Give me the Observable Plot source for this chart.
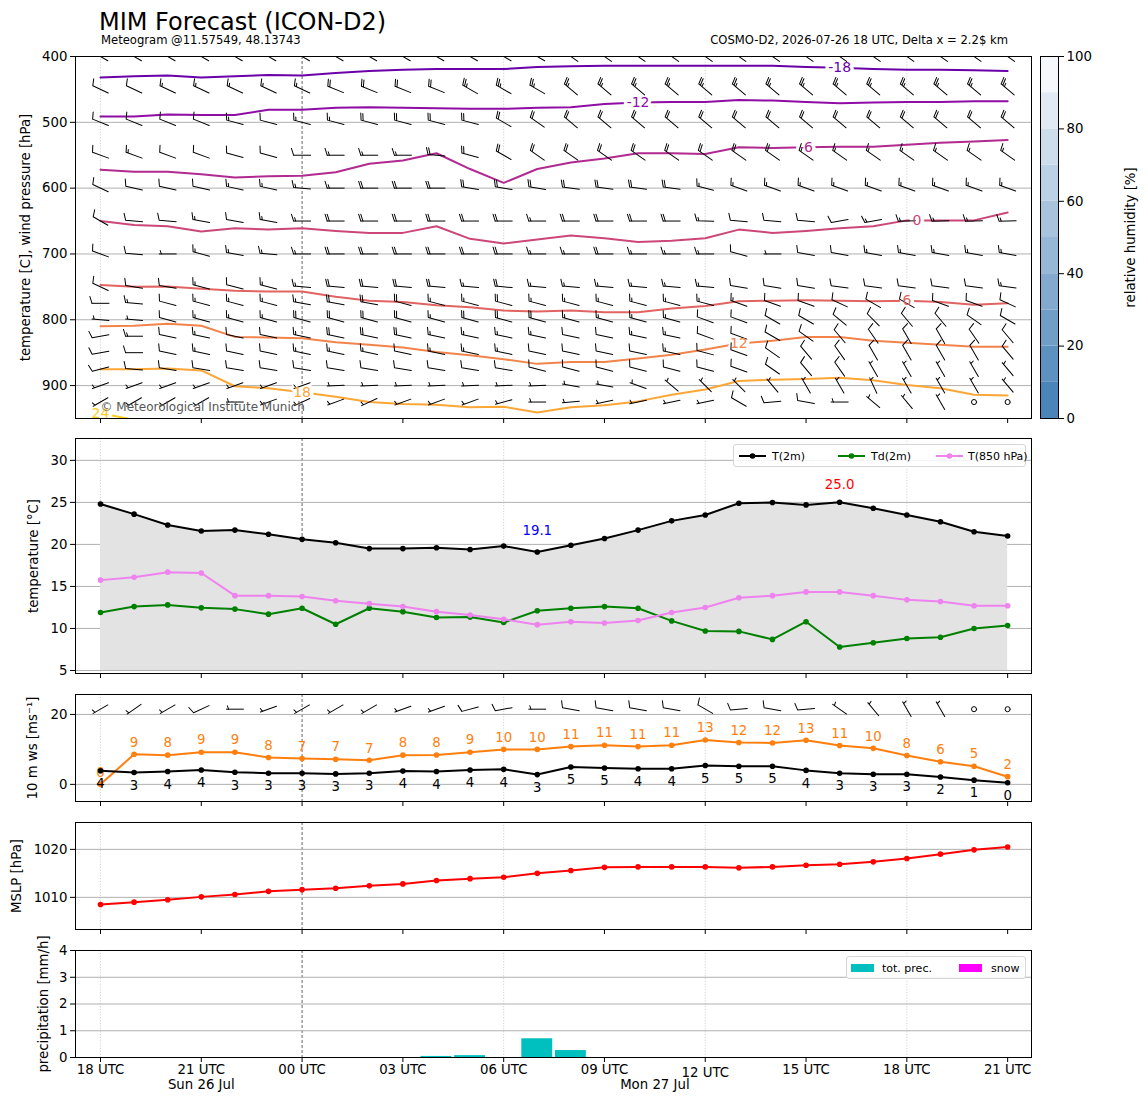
<!DOCTYPE html>
<html><head><meta charset="utf-8">
<script src="https://cdn.jsdelivr.net/npm/d3@7"></script>
<script src="https://cdn.jsdelivr.net/npm/@observablehq/plot@0.6"></script>
<style>
body{margin:0;background:#fff;font-family:"DejaVu Sans",sans-serif;}
#fig{position:relative;width:1148px;height:1105px;overflow:hidden;background:#fff;color:#000;}
.t{position:absolute;white-space:nowrap;line-height:1;}
.leg{position:absolute;border:1px solid #d6d6d6;border-radius:3px;background:rgba(255,255,255,0.85);font-size:11px;box-sizing:border-box;}
.leg span{position:absolute;top:5px;white-space:nowrap;}
.leg svg{position:absolute;top:0;}
</style></head><body><div id="fig"></div>
<script>
// ---------------- data ----------------
const validTimes = ["2026-07-26T18:00:00Z","2026-07-26T19:00:00Z","2026-07-26T20:00:00Z","2026-07-26T21:00:00Z","2026-07-26T22:00:00Z","2026-07-26T23:00:00Z",
"2026-07-27T00:00:00Z","2026-07-27T01:00:00Z","2026-07-27T02:00:00Z","2026-07-27T03:00:00Z","2026-07-27T04:00:00Z","2026-07-27T05:00:00Z",
"2026-07-27T06:00:00Z","2026-07-27T07:00:00Z","2026-07-27T08:00:00Z","2026-07-27T09:00:00Z","2026-07-27T10:00:00Z","2026-07-27T11:00:00Z",
"2026-07-27T12:00:00Z","2026-07-27T13:00:00Z","2026-07-27T14:00:00Z","2026-07-27T15:00:00Z","2026-07-27T16:00:00Z","2026-07-27T17:00:00Z",
"2026-07-27T18:00:00Z","2026-07-27T19:00:00Z","2026-07-27T20:00:00Z","2026-07-27T21:00:00Z"];
const tickLabels = ["18 UTC","21 UTC","00 UTC","03 UTC","06 UTC","09 UTC","12 UTC","15 UTC","18 UTC","21 UTC"];
const dayLabels = ["Sun 26 Jul","Mon 27 Jul"];
const dayLabelTimes = ["2026-07-26T21:00:00Z","2026-07-27T10:30:00Z"];

// 2 m temperature, dew point, 850 hPa temperature [°C]
const t2m  = [24.8,23.6,22.3,21.6,21.7,21.2,20.6,20.2,19.5,19.5,19.6,19.4,19.8,19.1,19.9,20.7,21.7,22.8,23.5,24.9,24.98,24.7,25.02,24.3,23.5,22.7,21.5,21.0];
const td2m = [11.9,12.6,12.8,12.45,12.3,11.7,12.4,10.5,12.4,12.0,11.3,11.35,10.7,12.1,12.4,12.6,12.4,10.9,9.7,9.65,8.7,10.8,7.8,8.3,8.8,8.95,10.0,10.35];
const t850 = [15.75,16.1,16.7,16.6,13.9,13.9,13.8,13.3,12.95,12.6,12.0,11.6,11.1,10.45,10.8,10.65,10.95,11.9,12.5,13.65,13.9,14.35,14.35,13.9,13.4,13.2,12.7,12.7];
// 10 m wind speed and gusts [m/s]
const ws10  = [3.9,3.4,3.7,4.1,3.45,3.2,3.2,3.0,3.2,3.8,3.7,4.1,4.3,2.8,4.95,4.7,4.45,4.45,5.4,5.2,5.2,4.0,3.2,2.9,2.9,2.1,1.2,0.48];
const gust10 = [0,8.6,8.35,9.2,9.2,7.7,7.4,7.2,6.9,8.35,8.4,9.2,10.0,10.0,10.8,11.2,10.8,11.2,12.7,11.95,11.85,12.6,11.1,10.3,8.25,6.45,5.2,2.2];
// mean sea level pressure [hPa]
const mslp = [1008.5,1009.0,1009.5,1010.1,1010.6,1011.25,1011.6,1011.9,1012.4,1012.8,1013.5,1013.9,1014.2,1015.0,1015.6,1016.25,1016.35,1016.35,1016.35,1016.15,1016.35,1016.7,1016.9,1017.4,1018.1,1019.0,1019.9,1020.5];
// precipitation [mm/h]
const totPrec = [0,0,0,0,0,0,0,0,0,0,0.04,0.07,0,0.70,0.26,0,0,0,0,0,0,0,0,0,0,0,0,0];
const snowPrec = [0,0,0,0,0,0,0,0,0,0,0,0,0,0,0,0,0,0,0,0,0,0,0,0,0,0,0,0];
// 10 m wind barbs: direction [deg], speed [kt]
const dir10 = [240,235,240,245,270,250,240,240,240,250,250,255,260,270,280,280,280,280,300,265,280,265,305,320,330,330,0,0];
const spd10 = [5,5,5,10,5,5,5,5,5,5,5,10,10,5,10,10,10,10,10,10,10,10,5,5,5,5,0,0];

// temperature isolines in the vertical section: pressure [hPa] of each isotherm
const isoLevels = [-18,-12,-6,0,6,12,18,24];
const isoM18 = [432,430,429,432,430,428,429,425,422,420,419,419,419,416,415,414,414,414,414,414,414,416,417,419,420,420,421,422];
const isoM12 = [491,491,488,489,489,481,481,478,477,478,478.5,479.5,479.5,478,477,472,470,469,469,466,467,469,471,470,469,469,468,468];
const isoM6  = [572,575,575,579,584,582,581,576,563,558,547,571,592,571,561,555,547,547,548,538,539,538,537,537,534,531,529,527];
const iso0   = [650,656,658,666,661,663,661,665,668,668,658,677,684,678,672,676,682,680,676,663,668,665,661,658,649,649,649,637];
const iso6   = [747,750,749.5,753,756,757,757,765,771,773,778,781,786,787.5,786,788.5,788.5,783,779,772,771,770.5,771,772,771,773,777,775];
const iso12  = [810,809,806,809,826,827,828,834,838,842,849,854,860,867,864,864,859,853,845,836,832,826,826,832,835,838,841,841];
const iso18  = [875,875,874,877,901,904,910,917,925,928,929,933,932,941,933,930,924,914,906,893,891,890,888,892,899,904,914,915];
const iso24  = [942,952,null,null,null,null,null,null,null,null,null,null,null,null,null,null,null,null,null,null,null,null,null,null,null,null,null,null];
const isoLabelHour = [22,16,21,24.3,24,19,6,0];

// wind barbs in the vertical section (direction [deg], speed [kt]) per pressure level
const windLevels = [400,450,500,550,600,650,700,750,775,800,825,850,875,900,925];
const dir400 = [300,300,300,300,300,300,300,300,300,300,300,300,300,300,305,305,305,305,305,305,305,305,305,305,305,305,305,305];
const spd400 = [25,25,25,25,25,25,25,25,25,25,25,25,25,25,25,25,25,25,25,25,25,25,25,25,25,25,25,25];
const dir450 = [295,295,295,295,295,295,295,292,292,292,292,300,300,300,310,310,310,310,310,310,310,310,310,310,310,310,310,310];
const spd450 = [10,10,15,15,15,15,15,20,20,20,20,25,25,25,25,25,25,25,25,25,25,25,25,25,25,25,25,25];
const dir500 = [292,292,292,292,285,285,285,285,285,285,285,285,300,305,310,310,310,310,310,310,310,310,310,310,310,310,310,310];
const spd500 = [10,10,10,10,15,10,15,15,20,20,20,20,20,20,20,20,20,20,20,20,20,20,20,20,20,20,20,20];
const dir550 = [290,290,290,290,285,285,270,270,270,270,275,285,300,305,305,305,305,305,305,305,305,305,305,305,305,305,305,305];
const spd550 = [10,15,10,10,10,10,10,15,15,15,20,20,20,20,20,20,20,20,20,20,20,15,15,15,15,15,15,15];
const dir600 = [295,283,283,283,282,282,275,270,270,270,270,280,280,280,278,278,278,278,285,290,290,290,290,290,290,290,290,290];
const spd600 = [10,10,10,10,15,15,15,15,20,20,20,20,20,20,20,20,20,20,15,15,15,15,15,15,15,15,15,15];
const dir650 = [300,275,275,280,280,280,270,270,270,270,270,270,270,270,270,270,270,270,272,275,275,275,260,260,268,268,268,268];
const spd650 = [10,10,10,15,10,15,15,20,20,20,20,20,20,15,20,20,20,20,15,10,10,10,10,15,15,15,15,15];
const dir700 = [290,275,270,285,280,275,270,270,270,270,270,270,270,270,270,270,270,270,270,285,270,280,280,280,280,280,280,280];
const spd700 = [10,10,5,15,15,15,15,20,20,20,20,20,20,15,15,20,15,15,15,10,5,10,10,15,15,15,15,15];
const dir750 = [295,280,280,285,285,285,275,275,275,275,275,275,275,275,275,275,275,275,275,280,280,280,277,277,277,277,277,277];
const spd750 = [10,10,10,15,10,15,15,20,20,20,20,15,20,15,15,15,15,15,15,10,10,10,10,10,10,10,10,15];
const dir775 = [270,275,285,285,285,285,280,280,280,285,285,285,285,285,285,285,285,285,285,290,290,290,295,300,300,290,290,295];
const spd775 = [10,15,10,15,15,15,15,20,20,20,15,15,20,15,15,15,15,15,15,15,10,10,10,10,10,10,10,10];
const dir800 = [275,275,285,285,285,285,285,285,285,285,285,285,285,285,285,285,285,285,290,290,300,300,310,315,320,320,305,300];
const spd800 = [5,5,10,15,15,15,20,20,20,20,15,20,20,20,15,15,15,15,10,10,10,10,10,10,10,10,10,10];
const dir825 = [260,270,282,282,282,282,282,282,282,282,282,282,282,282,282,282,282,282,290,290,300,305,320,325,330,330,325,320];
const spd825 = [10,15,10,15,10,10,15,20,20,20,15,15,15,15,10,10,15,15,10,10,10,10,10,10,10,10,10,10];
const dir850 = [260,270,282,282,282,282,282,282,282,282,282,282,282,282,282,282,282,282,285,290,305,320,325,330,330,330,330,320];
const spd850 = [10,10,10,15,10,10,15,15,15,10,15,15,15,10,10,10,10,15,10,10,10,10,10,10,10,10,10,10];
const dir875 = [255,275,280,280,280,280,280,280,280,280,280,280,280,285,285,285,285,285,285,290,305,320,325,330,330,330,330,320];
const spd875 = [10,10,10,10,10,10,10,10,10,10,10,10,10,10,10,10,10,10,10,10,10,10,10,5,5,5,5,5];
const dir900 = [250,250,250,250,250,250,250,268,268,268,268,268,268,268,280,280,290,310,315,315,320,330,330,335,330,330,330,320];
const spd900 = [5,5,5,5,5,5,5,5,5,5,5,5,5,5,5,5,5,5,5,5,5,5,5,5,5,5,5,5];
const dir925 = [240,240,240,240,270,250,245,250,245,250,250,250,255,270,265,258,258,258,258,300,265,280,270,310,320,330,0,0];
const spd925 = [5,5,5,5,5,5,5,5,5,5,5,5,5,5,5,5,5,5,5,10,10,10,5,5,5,5,0,0];

// relative humidity colour bar levels [%]
const rhLevels = [0,10,20,30,40,50,60,70,80,90,100];

// ---------------- helpers ----------------
const T = validTimes.map(d => new Date(d));
const H = 3600e3;
const xDomain = [new Date(+T[0] - 0.744 * H), new Date(+T[T.length - 1] + 0.71 * H)];
const tickTimes = T.filter(d => d.getUTCHours() % 3 === 0);
const tickLabelMap = new Map(tickTimes.map((d, i) => [+d, tickLabels[i]]));
const sixHourly = T.filter(d => d.getUTCHours() % 6 === 0 && d.getUTCHours() !== 0);
const midnights = T.filter(d => d.getUTCHours() === 0);
const fig = document.getElementById("fig");
const FONT = "DejaVu Sans";
const FS = 13.3;

function series(arr, name) { return T.map((time, i) => ({time, value: arr[i], name})); }

// wind barb symbol (matplotlib-like, pivot in the middle, feathers at the upwind end)
const barb = {
  draw(ctx, spd) {
    const L = 17, FH = 0.4 * L, FW = 0.25 * L, SP = 0.125 * L;
    let s = Math.round(spd / 5) * 5;
    if (s < 5) { const r = 0.15 * L; ctx.moveTo(r, 0); ctx.arc(0, 0, r, 0, 2 * Math.PI); return; }
    const end = -L / 2;
    ctx.moveTo(0, L / 2); ctx.lineTo(0, end);
    const nFlag = Math.floor(s / 50); s -= 50 * nFlag;
    const nFull = Math.floor(s / 10); s -= 10 * nFull;
    const half = s >= 5;
    let off = 0;
    for (let i = 0; i < nFlag; i++) {
      ctx.moveTo(0, end + off); ctx.lineTo(FH, end + off + FW / 2); ctx.lineTo(0, end + off + FW); ctx.closePath();
      off += FW + SP;
    }
    for (let i = 0; i < nFull; i++) {
      ctx.moveTo(0, end + off); ctx.lineTo(FH, end + off - FW / 2);
      off += SP;
    }
    if (half) {
      if (nFlag + nFull === 0) off += SP;
      ctx.moveTo(0, end + off); ctx.lineTo(FH / 2, end + off - FW / 4);
    }
  }
};

function vGrid() {
  return [
    Plot.ruleX(sixHourly, {stroke: "#c8c8c8", strokeWidth: 0.8, strokeDasharray: "1.2,1.6"}),
    Plot.ruleX(midnights, {stroke: "#404040", strokeWidth: 0.8, strokeDasharray: "3,2"})
  ];
}
function hGrid(ticks) { return Plot.ruleY(ticks, {stroke: "#b0b0b0", strokeWidth: 1}); }
function yAxis(ticks) { return Plot.axisY(ticks, {anchor: "left", tickSize: 5, tickPadding: 3, fontSize: FS, label: null, tickFormat: d => String(d)}); }
function xTicks() { return Plot.axisX(tickTimes, {anchor: "bottom", tickSize: 5, tickFormat: () => "", label: null}); }
function yLabel(text, dx) { return Plot.text([text], {frameAnchor: "left", textAnchor: "middle", rotate: -90, dx, fontSize: FS, text: d => d}); }

function panel(top, height, y, marks, extra = {}) {
  const svg = Plot.plot({
    width: 1148, height, marginLeft: 75, marginRight: 117, marginTop: 10, marginBottom: height - 10 - extra.frameH,
    x: {type: "utc", domain: xDomain, axis: null},
    y: {...y, axis: null},
    ...extra.opts,
    style: {fontFamily: FONT, fontSize: FS + "px", background: "transparent", overflow: "visible"},
    marks
  });
  svg.style.position = "absolute"; svg.style.left = "0px"; svg.style.top = top + "px";
  fig.appendChild(svg);
  return svg;
}

// ---------------- header ----------------
function addText(txt, css) { const d = document.createElement("div"); d.className = "t"; d.textContent = txt; Object.assign(d.style, css); fig.appendChild(d); return d; }
addText("MIM Forecast (ICON-D2)", {left: "99px", top: "10px", fontSize: "24px"});
addText("Meteogram @11.57549, 48.13743", {left: "101px", top: "35px", fontSize: "11.6px"});
addText("COSMO-D2, 2026-07-26 18 UTC, Delta x = 2.2$ km", {right: "140px", top: "35px", fontSize: "11.6px"});

// ---------------- panel 1: vertical section ----------------
const isoArrays = [isoM18, isoM12, isoM6, iso0, iso6, iso12, iso18, iso24];
const isoRows = isoLevels.flatMap((lev, k) => T.map((time, i) => ({time, p: isoArrays[k][i], level: lev})));
const isoLabels = isoLevels.map((lev, k) => {
  const h = isoLabelHour[k], i = Math.floor(h), f = h - i, a = isoArrays[k];
  const p = f ? a[i] * (1 - f) + a[i + 1] * f : a[i];
  return {time: new Date(+T[0] + h * H), p, level: lev, text: String(lev)};
});
const windDirs = [dir400,dir450,dir500,dir550,dir600,dir650,dir700,dir750,dir775,dir800,dir825,dir850,dir875,dir900,dir925];
const windSpds = [spd400,spd450,spd500,spd550,spd600,spd650,spd700,spd750,spd775,spd800,spd825,spd850,spd875,spd900,spd925];
const barbRows = windLevels.flatMap((p, k) => T.map((time, i) => ({time, p, dir: windDirs[k][i], spd: windSpds[k][i]})));

panel(46, 384, {domain: [400, 950], reverse: true}, [
  ...vGrid(),
  hGrid([500, 600, 700, 800, 900]),
  Plot.line(isoRows, {x: "time", y: "p", z: "level", stroke: "level", strokeWidth: 2, clip: true}),
  Plot.text(isoLabels, {x: "time", y: "p", text: "text", fill: "white", stroke: "white", strokeWidth: 7, fontSize: 14}),
  Plot.vector(barbRows, {x: "time", y: "p", length: "spd", rotate: "dir", shape: barb, anchor: "start", stroke: "black", strokeWidth: 1, clip: true}),
  Plot.text(isoLabels, {x: "time", y: "p", text: "text", fill: "level", fontSize: 14}),
  Plot.text(["© Meteorological Institute Munich"], {x: T[0], frameAnchor: "bottom", dy: -8, textAnchor: "start", text: d => d, fill: "#555", fontSize: 12}),
  yAxis([400, 500, 600, 700, 800, 900]),
  xTicks(),
  Plot.frame({stroke: "black"}),
  yLabel("temperature [C], wind pressure [hPa]", -50)
], {frameH: 362, opts: {
  color: {type: "linear", scheme: "plasma", domain: [-30, 30]},
  length: {type: "linear", domain: [0, 100], range: [0, 100]}
}});

// colour bar
const rhBands = rhLevels.slice(0, -1).map((lo, i) => ({lo, hi: rhLevels[i + 1]}));
const cb = Plot.plot({
  width: 108, height: 384, marginLeft: 0, marginRight: 90, marginTop: 10, marginBottom: 12,
  x: {domain: [0, 1], axis: null},
  y: {domain: [0, 100], axis: null},
  color: {type: "linear", domain: [0, 90], range: ["#4a84b8", "#f4f7fb"]},
  style: {fontFamily: FONT, fontSize: FS + "px", background: "transparent", overflow: "visible"},
  marks: [
    Plot.rect(rhBands, {x1: 0, x2: 1, y1: "lo", y2: "hi", fill: "lo"}),
    Plot.axisY([0, 20, 40, 60, 80, 100], {anchor: "right", tickSize: 5, tickPadding: 3, fontSize: FS, label: null, tickFormat: d => String(d)}),
    Plot.frame({stroke: "black"}),
    Plot.text(["relative humidity [%]"], {frameAnchor: "right", textAnchor: "middle", rotate: -90, dx: 72, fontSize: FS, text: d => d})
  ]
});
cb.style.position = "absolute"; cb.style.left = "1040px"; cb.style.top = "46px";
fig.appendChild(cb);

// ---------------- panel 2: temperatures ----------------
const tRows = T.map((time, i) => ({time, t2m: t2m[i]}));
const iMax = d3.maxIndex(t2m), iMin = d3.minIndex(t2m);
panel(428, 257, {domain: [4.64, 32.6]}, [
  ...vGrid(),
  hGrid([5, 10, 15, 20, 25, 30]),
  Plot.areaY(tRows, {x: "time", y1: 5, y2: "t2m", fill: "#e3e3e3"}),
  Plot.line(series(t2m), {x: "time", y: "value", stroke: "black", strokeWidth: 2}),
  Plot.dot(series(t2m), {x: "time", y: "value", fill: "black", r: 2.8}),
  Plot.line(series(td2m), {x: "time", y: "value", stroke: "green", strokeWidth: 2}),
  Plot.dot(series(td2m), {x: "time", y: "value", fill: "green", r: 2.8}),
  Plot.line(series(t850), {x: "time", y: "value", stroke: "violet", strokeWidth: 2}),
  Plot.dot(series(t850), {x: "time", y: "value", fill: "violet", r: 2.8}),
  Plot.text([{time: T[iMax], v: t2m[iMax]}], {x: "time", y: "v", text: d => d3.format(".1f")(d.v), fill: "red", dy: -17, fontSize: FS}),
  Plot.text([{time: T[iMin], v: t2m[iMin]}], {x: "time", y: "v", text: d => d3.format(".1f")(d.v), fill: "blue", dy: -21, fontSize: FS}),
  yAxis([5, 10, 15, 20, 25, 30]),
  xTicks(),
  Plot.frame({stroke: "black"}),
  yLabel("temperature [°C]", -42)
], {frameH: 235});

// legend panel 2
(function () {
  const lg = document.createElement("div"); lg.className = "leg";
  Object.assign(lg.style, {left: "733px", top: "444px", width: "293px", height: "23px"});
  const items = [["T(2m)", "black", 4, 38], ["Td(2m)", "green", 103, 137], ["T(850 hPa)", "violet", 201, 234]];
  let html = "";
  for (const [lab, col, x0, tx] of items) {
    html += `<svg width="30" height="22" style="left:${x0}px"><line x1="1" x2="28" y1="11" y2="11" stroke="${col}" stroke-width="2"/><circle cx="14.5" cy="11" r="2.8" fill="${col}"/></svg><span style="left:${tx}px">${lab}</span>`;
  }
  lg.innerHTML = html; fig.appendChild(lg);
})();

// ---------------- panel 3: 10 m wind ----------------
const barb10 = T.map((time, i) => ({time, dir: dir10[i], spd: spd10[i]}));
panel(684, 129, {domain: [-4.9, 25.7]}, [
  ...vGrid(),
  hGrid([0, 20]),
  Plot.vector(barb10, {x: "time", y: 21.5, length: "spd", rotate: "dir", shape: barb, anchor: "start", stroke: "black", strokeWidth: 1}),
  Plot.line(series(gust10), {x: "time", y: "value", stroke: "#ff7f0e", strokeWidth: 2}),
  Plot.dot(series(gust10), {x: "time", y: "value", fill: "#ff7f0e", r: 2.8}),
  Plot.text(series(gust10), {x: "time", y: "value", text: d => String(Math.round(d.value)), fill: "#ff7f0e", dy: -12, fontSize: FS}),
  Plot.line(series(ws10), {x: "time", y: "value", stroke: "black", strokeWidth: 2}),
  Plot.dot(series(ws10), {x: "time", y: "value", fill: "black", r: 2.8}),
  Plot.text(series(ws10), {x: "time", y: "value", text: d => String(Math.round(d.value)), fill: "black", dy: 13, fontSize: FS}),
  yAxis([0, 20]),
  xTicks(),
  Plot.frame({stroke: "black"}),
  yLabel("10 m ws [ms⁻¹]", -43)
], {frameH: 107, opts: {length: {type: "linear", domain: [0, 100], range: [0, 100]}}});

// ---------------- panel 4: MSLP ----------------
panel(812, 129, {domain: [1003.3, 1025.6]}, [
  ...vGrid(),
  hGrid([1010, 1020]),
  Plot.line(series(mslp), {x: "time", y: "value", stroke: "red", strokeWidth: 2}),
  Plot.dot(series(mslp), {x: "time", y: "value", fill: "red", r: 2.8}),
  yAxis([1010, 1020]),
  xTicks(),
  Plot.frame({stroke: "black"}),
  yLabel("MSLP [hPa]", -59)
], {frameH: 107});

// ---------------- panel 5: precipitation ----------------
const precRows = T.map((time, i) => ({time, tot: totPrec[i], snow: snowPrec[i]}));
const halfBar = 0.46 * H;
const noonTicks = tickTimes.filter(d => d.getUTCHours() === 12);
const otherTicks = tickTimes.filter(d => d.getUTCHours() !== 12);
panel(940, 165, {domain: [0, 4]}, [
  ...vGrid(),
  hGrid([1, 2, 3, 4]),
  Plot.rectY(precRows.filter(d => d.tot > 0), {x1: d => new Date(+d.time - halfBar), x2: d => new Date(+d.time + halfBar), y1: 0, y2: "tot", fill: "#00bfbf"}),
  Plot.rectY(precRows.filter(d => d.snow > 0), {x1: d => new Date(+d.time - halfBar), x2: d => new Date(+d.time + halfBar), y1: 0, y2: "snow", fill: "#ff00ff"}),
  yAxis([0, 1, 2, 3, 4]),
  Plot.axisX(otherTicks, {anchor: "bottom", tickSize: 5, tickPadding: 2, fontSize: FS, label: null, tickFormat: d => tickLabelMap.get(+d)}),
  Plot.axisX(noonTicks, {anchor: "bottom", tickSize: 5, tickPadding: 5, fontSize: FS, label: null, tickFormat: d => tickLabelMap.get(+d)}),
  Plot.text(dayLabels.map((label, i) => ({label, time: new Date(dayLabelTimes[i])})), {x: "time", text: "label", frameAnchor: "bottom", dy: 31, fontSize: FS}),
  Plot.frame({stroke: "black"}),
  yLabel("precipitation [mm/h]", -32)
], {frameH: 107});

// legend panel 5
(function () {
  const lg = document.createElement("div"); lg.className = "leg";
  Object.assign(lg.style, {left: "846px", top: "956px", width: "180px", height: "23px"});
  lg.innerHTML = `<svg width="26" height="22" style="left:3px"><rect x="1" y="7" width="23" height="8" fill="#00bfbf"/></svg><span style="left:35px">tot. prec.</span>` +
    `<svg width="26" height="22" style="left:111px"><rect x="1" y="7" width="23" height="8" fill="#ff00ff"/></svg><span style="left:144px">snow</span>`;
  fig.appendChild(lg);
})();
</script>
</body></html>
